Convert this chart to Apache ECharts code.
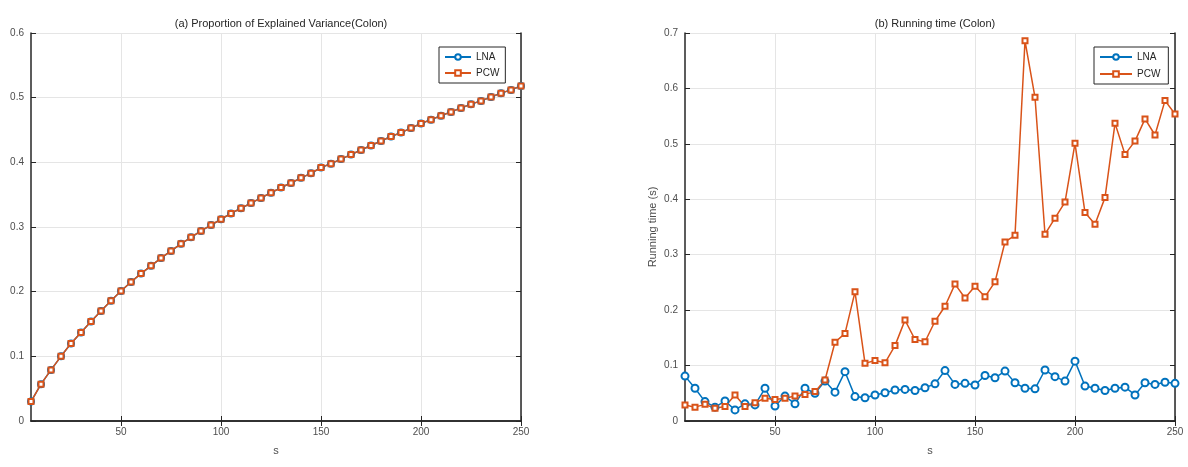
<!DOCTYPE html>
<html>
<head>
<meta charset="utf-8">
<script src="https://cdn.jsdelivr.net/npm/echarts@6/dist/echarts.min.js"></script>
<style>
  html, body { margin: 0; padding: 0; background: #fff; }
  #chart { width: 1188px; height: 467px; }
</style>
</head>
<body>
<div id="chart"></div>
<script>
// s values (x axis), 5..250 step 5
const sValues = [5,10,15,20,25,30,35,40,45,50,55,60,65,70,75,80,85,90,95,100,
  105,110,115,120,125,130,135,140,145,150,155,160,165,170,175,180,185,190,195,200,
  205,210,215,220,225,230,235,240,245,250];

// (a) proportion of explained variance, both methods give the same curve
const pevLNA = [0.030,0.057,0.079,0.100,0.120,0.137,0.154,0.170,0.186,0.201,
  0.215,0.228,0.240,0.252,0.263,0.274,0.284,0.294,0.303,0.312,
  0.321,0.329,0.337,0.345,0.353,0.361,0.368,0.376,0.383,0.392,
  0.398,0.405,0.412,0.419,0.426,0.433,0.440,0.446,0.453,0.460,
  0.466,0.472,0.478,0.484,0.490,0.495,0.501,0.507,0.512,0.518];
const pevPCW = pevLNA.slice();

// (b) running time in seconds
const timeLNA = [0.081,0.059,0.035,0.025,0.036,0.020,0.031,0.029,0.059,0.027,
  0.045,0.031,0.059,0.050,0.072,0.052,0.089,0.044,0.042,0.047,
  0.051,0.056,0.057,0.055,0.060,0.067,0.091,0.066,0.068,0.065,
  0.082,0.078,0.090,0.069,0.059,0.058,0.092,0.080,0.072,0.108,
  0.063,0.059,0.055,0.059,0.061,0.047,0.069,0.066,0.070,0.068];
const timePCW = [0.029,0.025,0.030,0.023,0.026,0.047,0.026,0.033,0.041,0.039,
  0.041,0.045,0.048,0.053,0.074,0.142,0.158,0.233,0.104,0.109,
  0.105,0.136,0.182,0.147,0.143,0.180,0.207,0.247,0.222,0.243,
  0.224,0.251,0.323,0.335,0.686,0.584,0.337,0.366,0.395,0.501,
  0.376,0.355,0.403,0.537,0.481,0.505,0.545,0.516,0.578,0.554];

const xTicks = [50, 100, 150, 200, 250];

const blue = '#0072BD';
const orange = '#D95319';
const axisCol = '#262626';
const font = 'Liberation Sans, Arial, sans-serif';

function pairs(ys) {
  return sValues.map((x, i) => [x, ys[i]]);
}

function xAxes(gi) {
  return [
    {
      type: 'value', gridIndex: gi, min: 5, max: 250, position: 'bottom',
      name: 's', nameLocation: 'middle', nameGap: 24,
      nameTextStyle: { color: '#4d4d4d', fontSize: 11, fontFamily: font },
      axisLine: { show: true, lineStyle: { color: axisCol, width: 1.5 } },
      axisTick: { show: true, inside: true, length: 5, customValues: xTicks, lineStyle: { color: axisCol } },
      axisLabel: { customValues: xTicks, color: '#4d4d4d', fontSize: 10, fontFamily: font, margin: 6 },
      splitLine: { show: true, lineStyle: { color: '#e5e5e5', width: 1 } }
    },
    {
      type: 'value', gridIndex: gi, min: 5, max: 250, position: 'top',
      axisLine: { show: true, lineStyle: { color: axisCol, width: 1.5 } },
      axisTick: { show: true, inside: true, length: 5, customValues: xTicks, lineStyle: { color: axisCol } },
      axisLabel: { show: false },
      splitLine: { show: false }
    }
  ];
}

function yAxes(gi, max, name) {
  return [
    {
      type: 'value', gridIndex: gi, min: 0, max: max, interval: 0.1, position: 'left',
      name: name, nameLocation: 'middle', nameGap: 27,
      nameTextStyle: { color: '#4d4d4d', fontSize: 11, fontFamily: font },
      axisLine: { show: true, lineStyle: { color: axisCol, width: 1.5 } },
      axisTick: { show: true, inside: true, length: 5, lineStyle: { color: axisCol } },
      axisLabel: { color: '#4d4d4d', fontSize: 10, fontFamily: font, margin: 7 },
      splitLine: { show: true, lineStyle: { color: '#e5e5e5', width: 1 } }
    },
    {
      type: 'value', gridIndex: gi, min: 0, max: max, interval: 0.1, position: 'right',
      axisLine: { show: true, lineStyle: { color: axisCol, width: 1.5 } },
      axisTick: { show: true, inside: true, length: 5, lineStyle: { color: axisCol } },
      axisLabel: { show: false },
      splitLine: { show: false }
    }
  ];
}

function lineSeries(name, data, xi, yi, color, symbol, size) {
  return {
    name: name, type: 'line', xAxisIndex: xi, yAxisIndex: yi,
    data: pairs(data), symbol: symbol, symbolSize: size, showAllSymbol: true,
    lineStyle: { color: color, width: 1.5 },
    itemStyle: { color: color, borderColor: color, borderWidth: 1 },
    emphasis: { disabled: true },
    animation: false
  };
}

const chart = echarts.init(document.getElementById('chart'));
const option = {
  animation: false,
  title: [
    { text: '(a) Proportion of Explained Variance(Colon)', left: 276, top: 13, textAlign: 'center',
      textStyle: { fontSize: 11, fontWeight: 'normal', color: '#262626', fontFamily: font } },
    { text: '(b) Running time (Colon)', left: 930, top: 13, textAlign: 'center',
      textStyle: { fontSize: 11, fontWeight: 'normal', color: '#262626', fontFamily: font } }
  ],
  legend: [
    { data: ['LNA', 'PCW'], orient: 'vertical', left: 439, top: 47, itemWidth: 26, itemHeight: 7, itemGap: 6,
      padding: [5, 6, 5, 5], borderColor: axisCol, borderWidth: 1, backgroundColor: '#fff',
      textStyle: { fontSize: 10, color: '#262626', fontFamily: font } },
    { data: ['LNA ', 'PCW '], orient: 'vertical', left: 1094, top: 47, itemWidth: 32, itemHeight: 7, itemGap: 7,
      padding: [5, 8, 5, 5], borderColor: axisCol, borderWidth: 1, backgroundColor: '#fff',
      formatter: n => n.trim(),
      textStyle: { fontSize: 10, color: '#262626', fontFamily: font } }
  ],
  grid: [
    { left: 31, top: 33, width: 490, height: 388 },
    { left: 685, top: 33, width: 490, height: 388 }
  ],
  xAxis: xAxes(0).concat(xAxes(1)),
  yAxis: yAxes(0, 0.6, '').concat(yAxes(1, 0.7, 'Running time (s)')),
  series: [
    lineSeries('LNA', pevLNA, 0, 0, blue, 'emptyCircle', 6),
    lineSeries('PCW', pevPCW, 0, 0, orange, 'emptyRect', 5),
    lineSeries('LNA ', timeLNA, 2, 2, blue, 'emptyCircle', 7),
    lineSeries('PCW ', timePCW, 2, 2, orange, 'emptyRect', 5)
  ]
};
chart.setOption(option);
window.onresize = function () { chart.resize(); };
</script>
</body>
</html>
